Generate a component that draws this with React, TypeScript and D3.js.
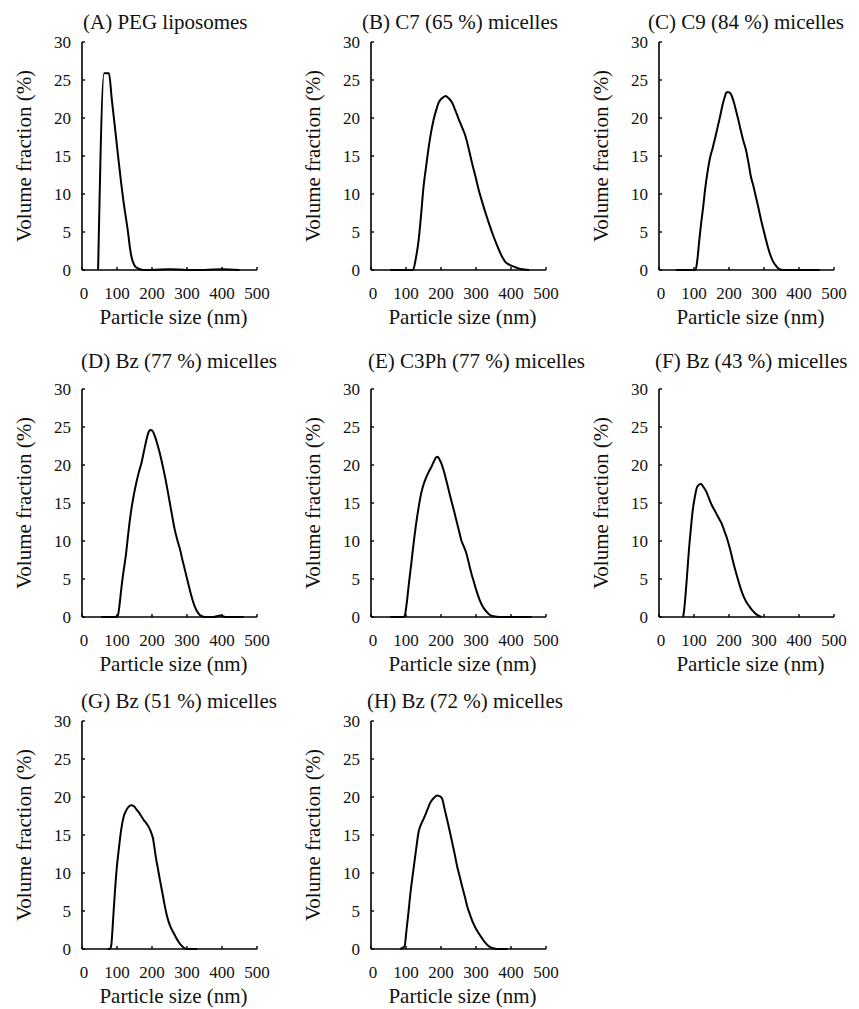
import React from "react";
import * as d3 from "d3";

// ---------- data ----------
const panelTitles = [
  "(A) PEG liposomes",
  "(B) C7 (65 %) micelles",
  "(C) C9 (84 %) micelles",
  "(D) Bz (77 %) micelles",
  "(E) C3Ph (77 %) micelles",
  "(F) Bz (43 %) micelles",
  "(G) Bz (51 %) micelles",
  "(H) Bz (72 %) micelles",
];

const xTickValues = [0, 100, 200, 300, 400, 500];
const yTickValues = [0, 5, 10, 15, 20, 25, 30];
const xLabel = "Particle size (nm)";
const yLabel = "Volume fraction (%)";

const sizesA = [46, 63, 77, 85, 95, 105, 112, 118, 125, 132, 137, 142, 150, 160, 175, 200, 250, 300, 350, 400, 450];
const valuesA = [0, 25.9, 25.9, 22.5, 18.4, 14.2, 11.4, 9.2, 7.0, 4.8, 2.9, 1.6, 0.6, 0.2, 0, 0, 0.1, 0, 0, 0.1, 0];

const sizesB = [55, 98, 120, 128, 136, 143, 150, 158, 165, 172, 179, 186, 193, 203, 213, 222, 232, 241, 251, 260, 270, 280, 289, 299, 308, 318, 328, 338, 347, 357, 366, 375, 385, 395, 404, 416, 428, 452];
const valuesB = [0, 0, 0, 1.5, 3.9, 7.2, 10.9, 13.8, 16.2, 18.2, 19.8, 21, 22, 22.6, 22.9, 22.6, 22, 21, 19.8, 18.8, 17.6, 15.8, 14, 12.2, 10.5, 8.9, 7.4, 6, 4.8, 3.6, 2.6, 1.7, 1.0, 0.7, 0.5, 0.3, 0.13, 0];

const sizesC = [48, 100, 105, 110, 115, 120, 126, 132, 139, 146, 153, 160, 167, 175, 182, 188, 193, 200, 206, 213, 220, 227, 234, 241, 249, 256, 263, 270, 277, 285, 292, 299, 306, 315, 325, 335, 344, 355, 400, 459];
const valuesC = [0, 0, 0.1, 1.5, 3.9, 6, 8.2, 10.7, 13, 14.8, 16, 17.3, 18.7, 20.3, 21.8, 22.8, 23.4, 23.4, 23.1, 22.2, 21, 19.7, 18.3, 17, 15.7, 14, 12.2, 11, 9.6, 8, 6.5, 5.2, 3.9, 2.4, 1.2, 0.5, 0.1, 0, 0, 0];

const sizesD = [55, 93, 102, 107, 112, 118, 125, 131, 138, 145, 153, 161, 170, 177, 184, 190, 195, 201, 208, 215, 222, 230, 237, 244, 251, 258, 265, 272, 280, 287, 294, 303, 313, 322, 332, 342, 352, 375, 395, 410, 462];
const valuesD = [0, 0, 0.1, 1.5, 3.6, 5.8, 8, 10.5, 13.2, 15.3, 17.2, 18.8, 20.3, 21.8, 23.3, 24.3, 24.6, 24.5, 23.8, 22.8, 21.6, 20, 18.5, 16.8, 15, 13.2, 11.5, 10.2, 8.9, 7.5, 6.2, 4.5, 2.7, 1.4, 0.5, 0.1, 0, 0, 0.2, 0, 0];

const sizesE = [55, 92, 96, 102, 108, 115, 122, 129, 136, 143, 150, 158, 165, 172, 179, 186, 190, 195, 201, 208, 215, 222, 229, 237, 244, 251, 258, 265, 273, 280, 287, 294, 301, 310, 320, 330, 339, 350, 368, 459];
const valuesE = [0, 0, 0.1, 1.8, 4.3, 7, 9.8, 12.3, 14.4, 16.2, 17.4, 18.4, 19.1, 19.7, 20.4, 21, 21.1, 20.8, 20.2, 19.2, 18, 16.7, 15.4, 14, 12.7, 11.4, 10.1, 9.3, 8.3, 7, 5.7, 4.6, 3.5, 2.3, 1.3, 0.7, 0.3, 0.1, 0, 0];

const sizesF = [69, 72, 76, 81, 86, 91, 96, 102, 108, 114, 120, 127, 135, 142, 150, 158, 165, 172, 180, 187, 194, 202, 209, 216, 224, 231, 239, 248, 258, 268, 278, 293];
const valuesF = [0, 1, 3, 6, 9.1, 11.6, 13.9, 15.7, 17, 17.4, 17.5, 17.1, 16.5, 15.7, 14.8, 14.1, 13.5, 12.9, 12.2, 11.3, 10.4, 9.1, 7.8, 6.5, 5.2, 4.1, 3, 2.1, 1.4, 0.8, 0.35, 0];

const sizesG = [73, 80, 84, 87, 90, 94, 98, 103, 108, 113, 119, 126, 133, 140, 148, 155, 162, 169, 176, 183, 190, 197, 203, 208, 212, 216, 223, 230, 236, 243, 252, 262, 271, 281, 290, 300, 329];
const valuesG = [0, 0, 0.6, 2.5, 4.7, 7.5, 10, 12.3, 14.3, 16, 17.4, 18.2, 18.7, 18.9, 18.8, 18.4, 18, 17.5, 17, 16.6, 16.1, 15.4, 14.5, 13, 11.8, 10.8, 9, 7.3, 5.8, 4.3, 3, 2.1, 1.3, 0.6, 0.2, 0, 0];

const sizesH = [83, 96, 101, 107, 113, 120, 128, 136, 143, 150, 160, 170, 180, 189, 196, 203, 210, 217, 225, 232, 239, 246, 253, 260, 268, 275, 283, 292, 302, 313, 325, 337, 349, 361, 390];
const valuesH = [0, 0.35, 2.3, 4.8, 7.5, 10, 12.8, 15.4, 16.4, 17.1, 18.2, 19.3, 19.9, 20.2, 20.1, 19.8, 18.5, 17.1, 15.5, 14, 12.5, 10.9, 9.6, 8.3, 6.9, 5.6, 4.5, 3.4, 2.5, 1.7, 0.9, 0.35, 0.1, 0, 0];

const allSizes = [sizesA, sizesB, sizesC, sizesD, sizesE, sizesF, sizesG, sizesH];
const allValues = [valuesA, valuesB, valuesC, valuesD, valuesE, valuesF, valuesG, valuesH];

// ---------- layout ----------
const W = 859;
const H = 1009;
const colAxisX = [82, 371, 659];
const rowTop = [42, 389, 721];
const rowBottom = [270, 617, 949];
const plotW = 175;
const titleBaseline = [29, 368, 708];
const titleOffsets = [1, -9, -11, -1, -3, -4, -1, -4];
const FONT = "Liberation Serif";
const ink = "#111";

function Panel({ idx }: { idx: number }) {
  const col = idx % 3;
  const row = Math.floor(idx / 3);
  const x0 = colAxisX[col];
  const top = rowTop[row];
  const bottom = rowBottom[row];
  const x = d3.scaleLinear().domain([0, 500]).range([x0, x0 + plotW]);
  const y = d3.scaleLinear().domain([0, 30]).range([bottom, top]);
  const pts: [number, number][] = allSizes[idx].map((s, i) => [s, allValues[idx][i]]);
  const line = d3
    .line<[number, number]>()
    .x((d) => x(d[0]))
    .y((d) => y(d[1]))
    .curve(d3.curveMonotoneX);
  const cy = (top + bottom) / 2;
  const tStyle = (size: number) => ({ fontFamily: FONT, fontSize: size });
  return (
    <g>
      <text x={x0 + titleOffsets[idx]} y={titleBaseline[row]} style={tStyle(21)} fill={ink}>
        {panelTitles[idx]}
      </text>
      <line x1={x0} x2={x0} y1={top} y2={bottom} stroke="#000" strokeWidth={1.6} />
      <line x1={x0} x2={x0 + plotW} y1={bottom} y2={bottom} stroke="#000" strokeWidth={1.6} />
      {yTickValues.map((t) => (
        <g key={"y" + t}>
          <line x1={x0} x2={x0 + 3} y1={y(t)} y2={y(t)} stroke="#000" strokeWidth={1.4} />
          <text x={x0 - 11} y={y(t)} dy="0.35em" textAnchor="end" style={tStyle(17)} fill={ink}>
            {t}
          </text>
        </g>
      ))}
      {xTickValues.map((t) => (
        <g key={"x" + t}>
          <line x1={x(t)} x2={x(t)} y1={bottom} y2={bottom - 3} stroke="#000" strokeWidth={1.4} />
          <text x={x(t) + (t === 0 ? 2 : 0)} y={bottom + 29} textAnchor="middle" style={tStyle(17)} fill={ink}>
            {t}
          </text>
        </g>
      ))}
      <text x={x0 + plotW / 2 + 4} y={bottom + 54} textAnchor="middle" style={tStyle(21)} fill={ink}>
        {xLabel}
      </text>
      <text
        transform={`translate(${x0 - 51},${cy}) rotate(-90)`}
        textAnchor="middle"
        style={tStyle(21)}
        fill={ink}
      >
        {yLabel}
      </text>
      <path d={line(pts) || ""} fill="none" stroke="#000" strokeWidth={2} strokeLinejoin="round" />
    </g>
  );
}

export default function App() {
  return (
    <svg
      width={W}
      height={H}
      viewBox={`0 0 ${W} ${H}`}
      style={{ position: "absolute", left: 0, top: 0, background: "#fff" }}
    >
      <rect x={0} y={0} width={W} height={H} fill="#fff" />
      {panelTitles.map((_, i) => (
        <Panel key={i} idx={i} />
      ))}
    </svg>
  );
}
